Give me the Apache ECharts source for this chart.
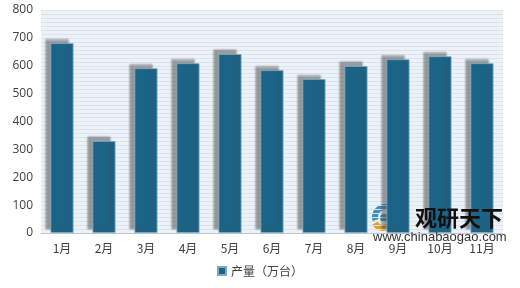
<!DOCTYPE html>
<html><head><meta charset="utf-8">
<script src="https://cdn.jsdelivr.net/npm/echarts@6/dist/echarts.min.js"></script>
<style>html,body{margin:0;padding:0;background:#fff}#c{width:520px;height:288px}</style>
</head><body><div id="c"></div>
<script>
const categories = ['1月','2月','3月','4月','5月','6月','7月','8月','9月','10月','11月'];
const values = [681, 330, 591, 609, 642, 584, 552, 599, 623, 634, 609];
const seriesName = '产量（万台）';
const yTicks = [0, 800, 100];

const chart = echarts.init(document.getElementById('c'));
chart.setOption({
  animation: false,
  textStyle: {fontFamily: '"Noto Sans CJK SC", "Noto Sans", sans-serif'},
  grid: {left: 41, right: 17, top: 10, bottom: 55, show: true, backgroundColor: '#edf2f8', borderWidth: 0},
  xAxis: {
    type: 'category', data: categories,
    axisLine: {show: true, lineStyle: {color: '#bfc8d0'}},
    axisTick: {show: false},
    axisLabel: {color: '#404040', fontSize: 12, margin: 9}
  },
  yAxis: {
    type: 'value', min: yTicks[0], max: yTicks[1], interval: yTicks[2],
    axisLine: {show: false}, axisTick: {show: false},
    axisLabel: {color: '#404040', fontSize: 12, margin: 8, fontFamily: '"Open Sans", sans-serif'},
    splitLine: {show: true, lineStyle: {color: '#dde5ee', width: 1}},
    minorTick: {show: false, splitNumber: 7},
    minorSplitLine: {show: true, lineStyle: {color: '#dbe3ec', width: 1}}
  },
  legend: {
    bottom: 6, left: 'center', itemWidth: 8, itemHeight: 8, icon: 'rect',
    textStyle: {color: '#404040', fontSize: 12},
    data: [seriesName]
  },
  series: [{
    name: seriesName, type: 'bar', data: values, barWidth: 23,
    itemStyle: {
      color: '#1b6487', borderColor: '#7fa9bf', borderWidth: 0.8,
      shadowColor: 'rgba(80,80,80,0.55)', shadowBlur: 2, shadowOffsetX: -5, shadowOffsetY: -4
    }
  }],
  graphic: [
    {type: 'group', left: 372, top: 204, z: 100, children: [
      {type: 'sector', shape: {cx: 18, cy: 13, r: 13, r0: 7, startAngle: Math.PI*0.9, endAngle: Math.PI*1.9}, style: {fill: '#3c8fc4'}},
      {type: 'sector', shape: {cx: 16, cy: 15, r: 12, r0: 6, startAngle: Math.PI*0.05, endAngle: Math.PI*0.85}, style: {fill: '#f29b1e'}},
      {type: 'circle', shape: {cx: 17, cy: 14, r: 4}, style: {fill: '#3c8fc4'}}
    ]},
    {type: 'text', left: 415, top: 207, z: 100, style: {text: '观研天下', fontSize: 22, fontWeight: 'bold', fill: '#111', fontFamily: '"Noto Sans CJK SC", sans-serif'}},
    {type: 'text', left: 373, top: 231, z: 100, style: {text: 'www.chinabaogao.com', fontSize: 13, fill: '#333', fontFamily: '"Liberation Sans", sans-serif'}}
  ]
});
</script>
</body></html>
